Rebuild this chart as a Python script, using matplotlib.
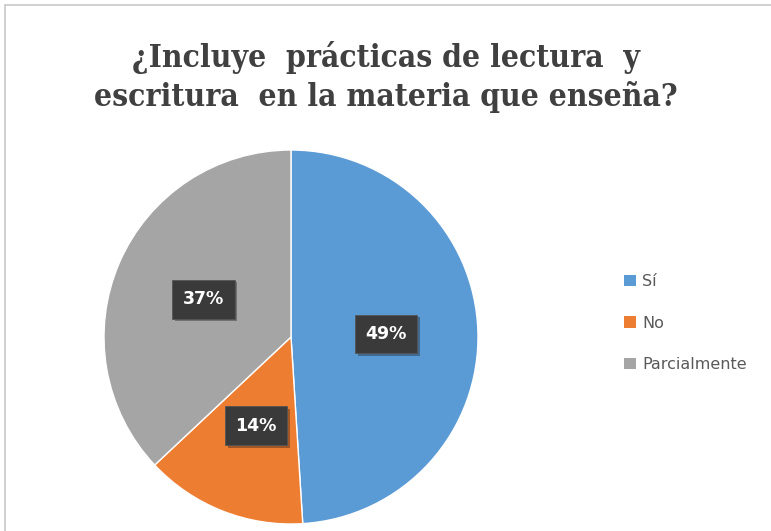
import matplotlib
matplotlib.use('Agg')
import matplotlib.pyplot as plt
import matplotlib.patheffects as pe
from matplotlib.patches import Rectangle

# Datos
categorias = ['Sí', 'No', 'Parcialmente']
porcentajes = [49, 14, 37]
colores = ['#5B9BD5', '#ED7D31', '#A5A5A5']
titulo = '¿Incluye  prácticas de lectura  y\nescritura  en la materia que enseña?'

W, H = 771, 531
fig = plt.figure(figsize=(W / 100, H / 100), dpi=100)
ax = fig.add_axes([0, 0, 1, 1])
ax.set_xlim(0, W)
ax.set_ylim(0, H)
ax.set_aspect('equal')
ax.axis('off')

# marco del gráfico
ax.add_patch(Rectangle((5, -10), W, H - 5 + 10, fill=False, edgecolor='#c8c8c8', lw=1.2))

wedges, texts, autotexts = ax.pie(
    porcentajes, colors=colores, startangle=90, counterclock=False,
    center=(291, H - 337), radius=187, autopct='%d%%', pctdistance=0.51,
    wedgeprops=dict(edgecolor='white', linewidth=1),
    textprops=dict(color='white', fontsize=12.5, fontweight='bold', family='DejaVu Sans'))
ax.set_xlim(0, W)
ax.set_ylim(0, H)

for t in autotexts:
    t.set_bbox(dict(boxstyle='square,pad=0.6', facecolor='#3a3a3a', edgecolor='#555555', lw=0.6,
                    path_effects=[pe.SimplePatchShadow(offset=(2, -2), alpha=0.35), pe.Normal()]))

fig.text(0.5, 1 - 77 / H, titulo, ha='center', va='center', fontsize=22.8, fontweight='bold',
         family='DejaVu Serif', fontstretch='condensed', color='#404040', linespacing=1.25)

leg = ax.legend(wedges, categorias, loc='center left', bbox_to_anchor=(610 / W, 1 - 323 / H),
                bbox_transform=fig.transFigure, frameon=False, fontsize=11.5,
                handlelength=0.7, handleheight=0.7, handletextpad=0.4, labelspacing=1.65)
for t in leg.get_texts():
    t.set_color('#595959')
for h in leg.legend_handles:
    h.set_edgecolor('none')

fig.savefig('out.png', dpi=100)
